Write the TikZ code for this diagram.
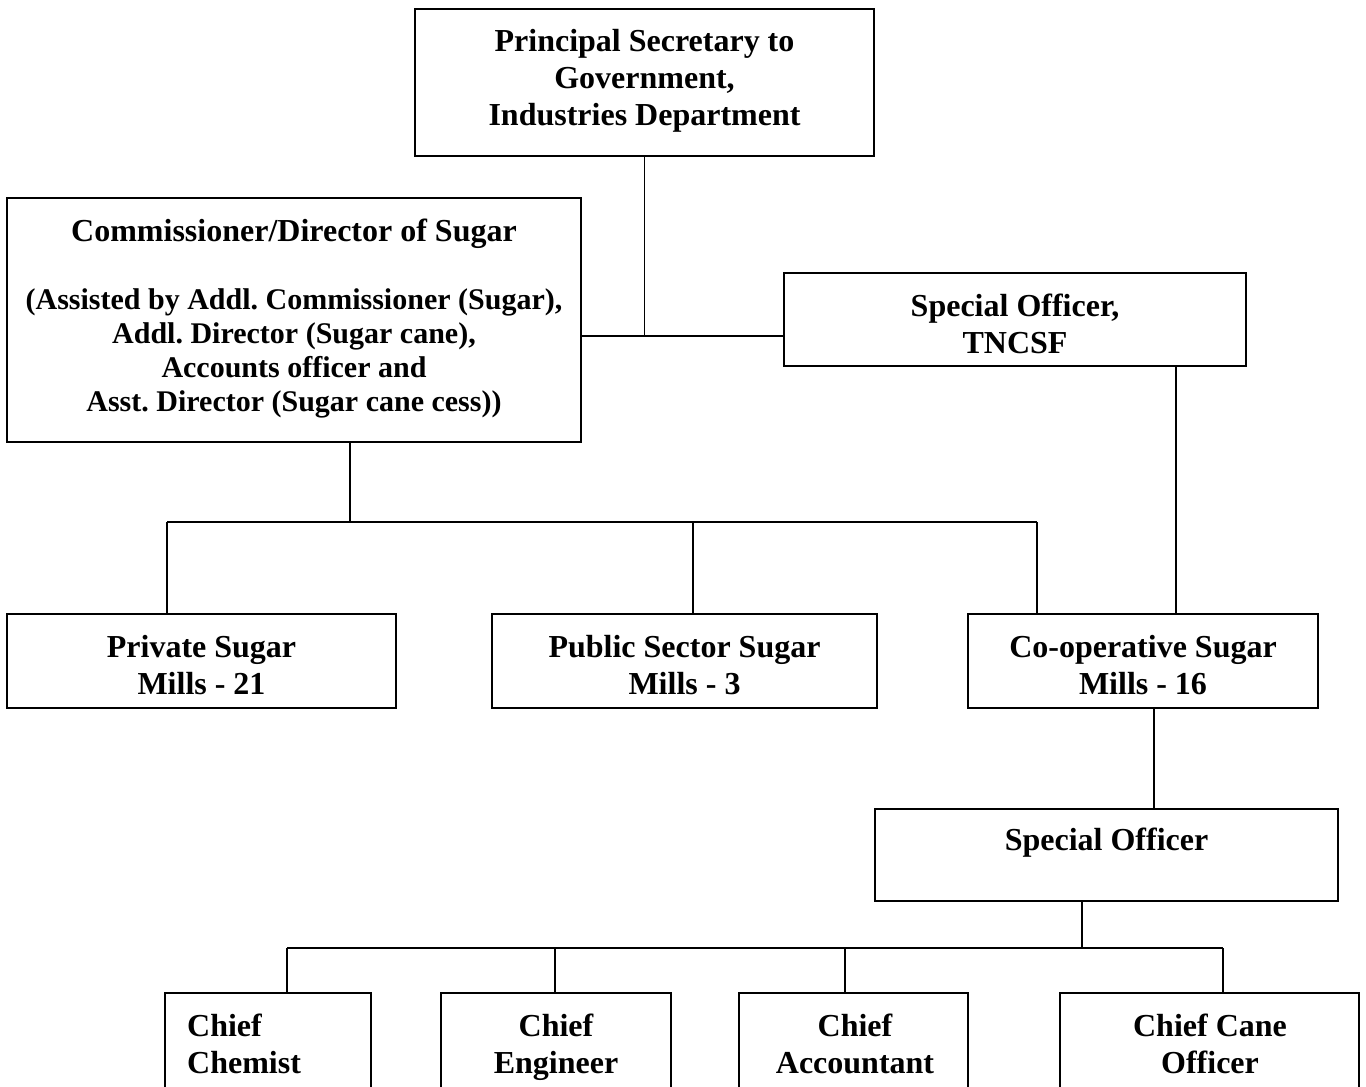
\documentclass[tikz,border=0pt]{standalone}
\usepackage{fontspec}
\setmainfont{Liberation Serif}
\frenchspacing
\begin{document}
\begin{tikzpicture}[x=1pt,y=-1pt,
  box/.style={draw=black, line width=1.7pt, rectangle, inner sep=0pt},
  txt/.style={align=center, font=\bfseries\fontsize{32}{37}\selectfont, inner sep=0pt},
  small/.style={font=\bfseries\fontsize{30}{34}\selectfont},
  conn/.style={draw=black, line width=1.5pt}]
\useasboundingbox (0,0) rectangle (1366,1087);
\clip (0,0) rectangle (1366,1087);
\fill[white] (0,0) rectangle (1366,1087);

% boxes
\node[box, minimum width=459pt, minimum height=147pt] (ps) at (644.5,82.5) {};
\node[txt] at (644.5,81) {Principal Secretary to\\Government,\\Industries Department};

\node[box, minimum width=574pt, minimum height=244pt] (com) at (294,320) {};
\node[txt, anchor=north] at (294,219) {Commissioner/Director of Sugar};
\node[txt, small, anchor=north] at (294,288.5) {(Assisted by Addl. Commissioner (Sugar),\\Addl. Director (Sugar cane),\\Accounts officer and\\Asst. Director (Sugar cane cess))};

\node[box, minimum width=462pt, minimum height=93pt] (so1) at (1015,319.5) {};
\node[txt] at (1015,324) {Special Officer,\\TNCSF};

\node[box, minimum width=389pt, minimum height=94pt] (priv) at (201.5,661) {};
\node[txt] at (201.5,665) {Private Sugar\\Mills - 21};
\node[box, minimum width=385pt, minimum height=94pt] (pub) at (684.5,661) {};
\node[txt] at (684.5,665) {Public Sector Sugar\\Mills - 3};
\node[box, minimum width=350pt, minimum height=94pt] (coop) at (1143,661) {};
\node[txt] at (1143,665) {Co-operative Sugar\\Mills - 16};

\node[box, minimum width=463pt, minimum height=92pt] (so2) at (1106.5,855) {};
\node[txt] at (1106.5,843) {Special Officer};

\node[box, minimum width=206pt, minimum height=137pt] (chem) at (268,1061.5) {};
\node[txt, align=left, anchor=north west] at (187,1014) {Chief\\Chemist};
\node[box, minimum width=230pt, minimum height=137pt] (eng) at (556,1061.5) {};
\node[txt, anchor=north] at (556,1014) {Chief\\Engineer};
\node[box, minimum width=229pt, minimum height=137pt] (acc) at (853.5,1061.5) {};
\node[txt, anchor=north] at (855,1014) {Chief\\Accountant};
\node[box, minimum width=299pt, minimum height=137pt] (cane) at (1209.5,1061.5) {};
\node[txt, anchor=north] at (1210,1014) {Chief Cane\\Officer};

% junction coordinates
\coordinate (j1) at (644.5,336);
\coordinate (j2) at (350,522);
\coordinate (d1) at (167,522);
\coordinate (d2) at (693,522);
\coordinate (d3) at (1037,522);
\coordinate (k1) at (1176,400);
\coordinate (k2) at (1154,750);
\coordinate (j3) at (1082,948);
\coordinate (e1) at (287,948);
\coordinate (e2) at (555,948);
\coordinate (e3) at (845,948);
\coordinate (e4) at (1223,948);

% connectors
\draw[conn] (ps.south) -- (j1);
\draw[conn] (com.east |- j1) -- (so1.west |- j1);
\draw[conn] (j2 |- com.south) -- (j2);
\draw[conn] (d1) -- (d3);
\draw[conn] (d1) -- (d1 |- priv.north);
\draw[conn] (d2) -- (d2 |- pub.north);
\draw[conn] (d3) -- (d3 |- coop.north);
\draw[conn] (k1 |- so1.south) -- (k1 |- coop.north);
\draw[conn] (k2 |- coop.south) -- (k2 |- so2.north);
\draw[conn] (j3 |- so2.south) -- (j3);
\draw[conn] (e1) -- (e4);
\draw[conn] (e1) -- (e1 |- chem.north);
\draw[conn] (e2) -- (e2 |- eng.north);
\draw[conn] (e3) -- (e3 |- acc.north);
\draw[conn] (e4) -- (e4 |- cane.north);
\end{tikzpicture}
\end{document}
